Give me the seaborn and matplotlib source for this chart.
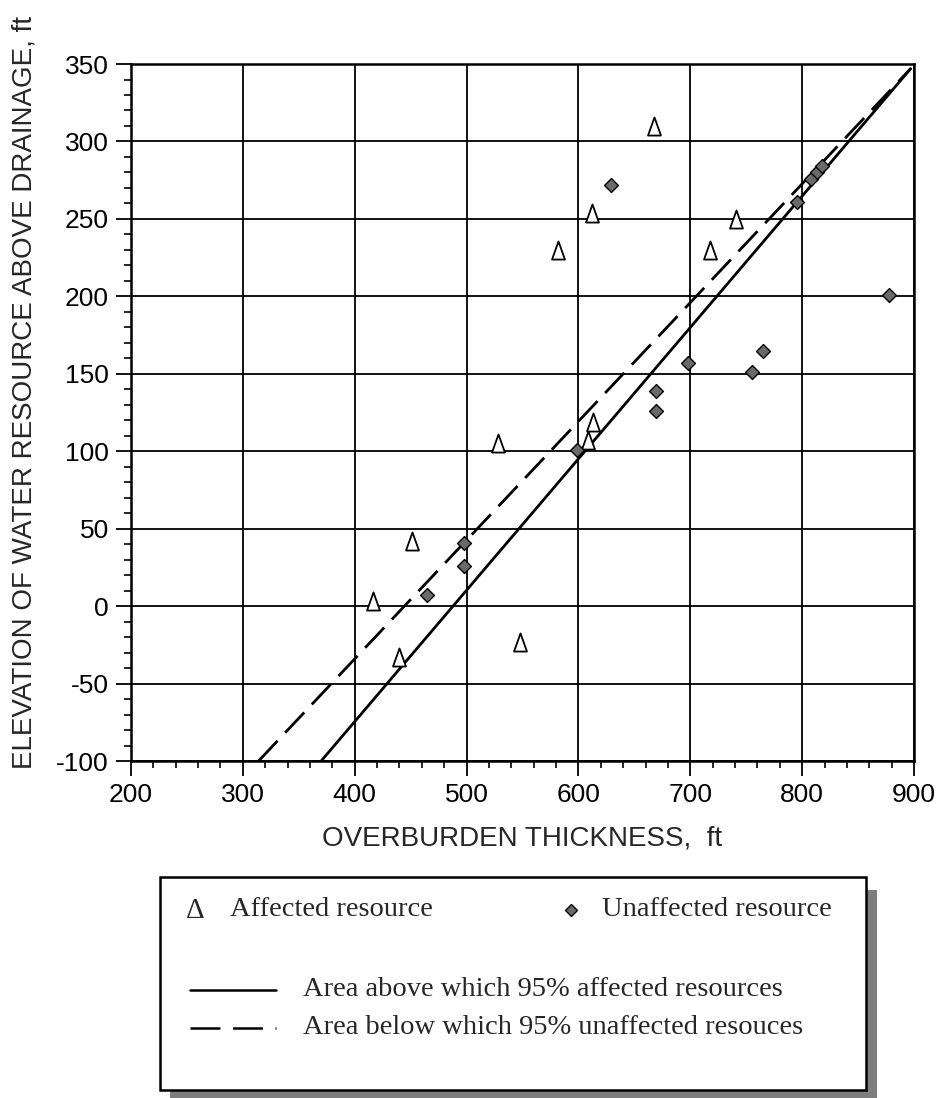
import matplotlib
matplotlib.use('Agg')
import matplotlib.pyplot as plt
from matplotlib.ticker import MultipleLocator
from matplotlib.lines import Line2D
from matplotlib.patches import Rectangle
from matplotlib.path import Path
import seaborn as sns

# affected resources (open triangles)
affected_x = [416, 440, 451, 528, 548, 582, 609, 612, 613, 668, 718, 741]
affected_y = [3, -33, 42, 105, -23, 230, 107, 254, 119, 310, 230, 250]

# unaffected resources (grey diamonds)
unaffected_x = [465, 498, 498, 599, 629, 669, 669, 698, 755, 765, 795, 808, 813, 818, 878]
unaffected_y = [7, 26, 41, 101, 272, 126, 139, 157, 151, 165, 261, 276, 280, 284, 201]

# 95% boundary lines
affected_line_x = [370, 897]
affected_line_y = [-100, 347]
unaffected_line_x = [314, 897]
unaffected_line_y = [-100, 347]

x_ticks = [200, 300, 400, 500, 600, 700, 800, 900]
y_ticks = [-100, -50, 0, 50, 100, 150, 200, 250, 300, 350]

sns.set_style('ticks')
plt.rcParams['font.family'] = ['Liberation Sans', 'DejaVu Sans']
plt.rcParams['axes.unicode_minus'] = False

fig = plt.figure(figsize=(9.41, 10.98), dpi=100)
ax = fig.add_axes([0.1392, 0.3069, 0.8321, 0.6348])

sns.lineplot(x=affected_line_x, y=affected_line_y, color='black', linewidth=2.0, ax=ax, zorder=3)
sns.lineplot(x=unaffected_line_x, y=unaffected_line_y, color='black', linewidth=2.0,
             linestyle=(0, (10, 4)), ax=ax, zorder=3)

tri = Path([(-0.5, -0.7), (0.5, -0.7), (0, 0.7), (-0.5, -0.7)], closed=True)
sns.scatterplot(x=affected_x, y=affected_y, marker=tri, s=170, color='white',
                edgecolor='black', linewidth=1.3, ax=ax, zorder=4)
sns.scatterplot(x=unaffected_x, y=unaffected_y, marker='D', s=50, color='#6a6a6a',
                edgecolor='black', linewidth=1.0, ax=ax, zorder=5)

ax.set_xlim(200, 900)
ax.set_ylim(-100, 350)
ax.set_xticks(x_ticks)
ax.set_yticks(y_ticks)
ax.xaxis.set_minor_locator(MultipleLocator(20))
ax.yaxis.set_minor_locator(MultipleLocator(10))
ax.grid(True, which='major', color='black', linewidth=1.3)
ax.set_axisbelow(True)
for sp in ax.spines.values():
    sp.set_visible(True)
    sp.set_linewidth(1.8)
    sp.set_color('black')
ax.tick_params(which='major', direction='out', length=11, width=1.3, labelsize=19, pad=5, colors='black')
ax.tick_params(which='minor', direction='out', length=5, width=1.2, colors='black')

ax.set_xlabel('OVERBURDEN THICKNESS,  ft', fontsize=20)
ax.set_ylabel('ELEVATION OF WATER RESOURCE ABOVE DRAINAGE, ft', fontsize=20)
ax.xaxis.set_label_coords(0.5, -0.092)
ax.yaxis.set_label_coords(-0.119, 0.529)

# legend box with shadow
W, H = 941.0, 1098.0
def fx(px):
    return px / W
def fy(py):
    return 1 - py / H

fig.patches.append(Rectangle((fx(170), fy(1098)), fx(877) - fx(170), fy(890) - fy(1098),
                             transform=fig.transFigure, facecolor='#7e7e7e', edgecolor='none', zorder=1))
fig.patches.append(Rectangle((fx(160), fy(1090)), fx(866) - fx(160), fy(877) - fy(1090),
                             transform=fig.transFigure, facecolor='white', edgecolor='black',
                             linewidth=1.8, zorder=2))

serif = ['Liberation Serif', 'DejaVu Serif']
fig.text(fx(195), fy(911), '\u0394', family=serif, fontsize=21, ha='center', va='center', zorder=3)
fig.text(fx(230), fy(910), 'Affected resource', family=serif, fontsize=20.5, ha='left', va='center', zorder=3)
fig.lines.append(Line2D([fx(571)], [fy(910)], marker='D', markersize=6.5, markerfacecolor='#6a6a6a',
                        markeredgecolor='black', markeredgewidth=1.0, linestyle='none',
                        transform=fig.transFigure, zorder=3))
fig.text(fx(602), fy(910), 'Unaffected resource', family=serif, fontsize=20.5, ha='left', va='center', zorder=3)

fig.lines.append(Line2D([fx(190), fx(276)], [fy(990), fy(990)], color='black', linewidth=1.8,
                        transform=fig.transFigure, zorder=3))
fig.text(fx(303), fy(990), 'Area above which 95% affected resources', family=serif, fontsize=20.5,
         ha='left', va='center', zorder=3)
fig.lines.append(Line2D([fx(190), fx(276)], [fy(1028), fy(1028)], color='black', linewidth=1.8,
                        linestyle=(0, (12, 5)), transform=fig.transFigure, zorder=3))
fig.text(fx(303), fy(1028), 'Area below which 95% unaffected resouces', family=serif, fontsize=20.5,
         ha='left', va='center', zorder=3)

fig.savefig('out.png', dpi=100)
